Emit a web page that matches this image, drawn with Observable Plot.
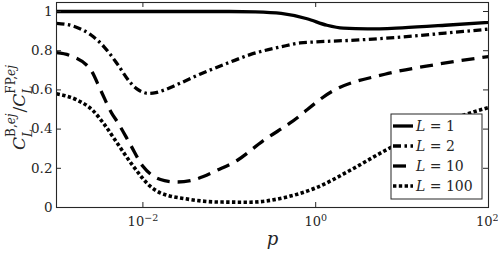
<!DOCTYPE html>
<html><head><meta charset="utf-8">
<script src="https://cdn.jsdelivr.net/npm/d3@7"></script>
<script src="https://cdn.jsdelivr.net/npm/@observablehq/plot@0.6"></script>
<style>
body{margin:0;background:#fff}
#chart svg{display:block}
</style>
</head><body><div id="chart"></div>
<script>
// ---- data (x as log10(p)) ----
const seriesL = [1, 2, 10, 100];
const exp1 = [-3, -2, -1, -0.7, -0.4, -0.1, 0.13, 0.32, 0.6, 1.0, 1.5, 2.0];
const val1 = [1.0, 1.0, 1.0, 0.998, 0.99, 0.963, 0.93, 0.915, 0.911, 0.917, 0.93, 0.945];
const exp2 = [-3, -2.8, -2.6, -2.45, -2.3, -2.15, -2.07, -2.0, -1.93, -1.85, -1.75, -1.6, -1.34, -1.0, -0.76, -0.4, -0.18, 0.0, 0.5, 1.0, 1.5, 2.0];
const val2 = [0.94, 0.925, 0.88, 0.82, 0.735, 0.64, 0.605, 0.588, 0.582, 0.586, 0.6, 0.628, 0.68, 0.74, 0.78, 0.82, 0.84, 0.845, 0.855, 0.87, 0.89, 0.91];
const exp10 = [-3, -2.84, -2.6, -2.49, -2.36, -2.3, -2.15, -2.0, -1.88, -1.75, -1.6, -1.45, -1.3, -1.14, -0.91, -0.61, -0.3, 0.2, 0.8, 1.4, 2.0];
const val10 = [0.79, 0.775, 0.70, 0.60, 0.48, 0.44, 0.325, 0.21, 0.16, 0.137, 0.13, 0.137, 0.158, 0.19, 0.24, 0.34, 0.43, 0.595, 0.68, 0.73, 0.77];
const exp100 = [-3, -2.77, -2.58, -2.44, -2.3, -2.11, -1.92, -1.8, -1.7, -1.53, -1.14, -0.76, -0.37, 0.0, 0.4, 0.78, 1.2, 1.7, 2.0];
const val100 = [0.58, 0.55, 0.495, 0.42, 0.33, 0.21, 0.11, 0.075, 0.06, 0.046, 0.028, 0.027, 0.05, 0.10, 0.19, 0.285, 0.38, 0.47, 0.51];
const xTicks = [1e-2, 1e0, 1e2];
const yTicks = [0, 0.2, 0.4, 0.6, 0.8, 1];

const rows = (e, v) => e.map((x, i) => ({p: 10 ** x, v: v[i]}));
const data = [rows(exp1, val1), rows(exp2, val2), rows(exp10, val10), rows(exp100, val100)];
const dashes = [null, "8,3.5,2.5,3.5", "13,8", "3.4,2.4"];

const W = 498, H = 256, mL = 56, mR = 10, mT = 2, mB = 49;
const innerW = W - mL - mR, innerH = H - mT - mB;
const ink = "#262626";
const FONT = "DejaVu Serif";

const lines = data.map((d, i) => Plot.line(d, {
  x: "p", y: "v", stroke: "#000", strokeWidth: i === 3 ? 3.6 : 3.3, curve: "monotone-x",
  strokeDasharray: dashes[i], strokeLinecap: "butt", strokeLinejoin: "round"
}));

const plot = Plot.plot({
  width: W, height: H,
  marginLeft: mL, marginRight: mR, marginTop: mT, marginBottom: mB,
  style: {fontFamily: FONT, fontSize: "13px", color: ink, background: "#fff"},
  x: {type: "log", domain: [1e-3, 1e2]},
  y: {domain: [0, 1.046]},
  marks: [
    ...lines,
    Plot.frame({stroke: ink, strokeWidth: 1.1}),
    Plot.tickX(xTicks, {x: d => d, stroke: ink, insetTop: innerH - 5}),
    Plot.tickX(xTicks, {x: d => d, stroke: ink, insetBottom: innerH - 5}),
    Plot.tickY(yTicks, {y: d => d, stroke: ink, insetRight: innerW - 5}),
    Plot.tickY(yTicks, {y: d => d, stroke: ink, insetLeft: innerW - 5}),
    Plot.axisX(xTicks, {tickSize: 0, tickPadding: 9, label: null, fill: ink, fontSize: 13,
      tickFormat: d => "10^" + Math.round(Math.log10(d))}),
    Plot.axisY(yTicks, {tickSize: 0, tickPadding: 4, label: null, fill: ink, fontSize: 13.5,
      tickFormat: d => d === 0 ? "0" : d === 1 ? "1" : d.toFixed(1)}),
    Plot.text(["p"], {frameAnchor: "bottom", dy: 37, fontStyle: "italic", fontSize: 18, fill: ink})
  ]
});
document.getElementById("chart").append(plot);

const svg = d3.select(plot);
// superscript exponents on x tick labels
const xl = svg.selectAll("g[aria-label='x-axis tick label'] text");
const nX = xl.size();
xl.each(function(_, i) {
  const s = d3.select(this);
  const txt = s.text();
  const [base, ex] = txt.split("^");
  s.text(null);
  if (i === nX - 1) s.attr("text-anchor", "end").attr("dx", 10);
  s.append("tspan").text(base);
  s.append("tspan").attr("dy", "-0.55em").attr("font-size", "9.5px").text(ex.replace("-", "\u2212"));
});

// y-axis rich label
const g = svg.append("g").attr("fill", ink).attr("font-family", FONT).attr("text-anchor", "start");
function put(str, u, v, size, italic) {
  const t = g.append("text").attr("x", u).attr("y", v).attr("font-size", size)
    .attr("text-anchor", "start")
    .attr("font-style", italic ? "italic" : "normal").text(str);
  return t.node().getComputedTextLength();
}
const big = 17, small = 12;
let u = 0;
function supsub(supParts, sub) {
  let su = u;
  supParts.forEach(([s, it]) => { su += put(s, su, -10, small, it); });
  const sb = put(sub, u, 6.5, small, true);
  u = Math.max(su, u + sb) + 1;
}
u += put("C", u, 0, big, true);
supsub([["B,", false], ["ej", true]], "L");
u += put("/", u, 0, big, false);
u += put("C", u, 0, big, true);
supsub([["FP,", false], ["ej", true]], "L");
g.attr("transform", `translate(25,${107 + u / 2}) rotate(-90)`);

// legend
const lg = svg.append("g").attr("font-family", FONT).attr("font-size", 14).attr("text-anchor", "start");
const bx = 391, by = 114, bw = 91, bh = 85;
lg.append("rect").attr("x", bx).attr("y", by).attr("width", bw).attr("height", bh)
  .attr("fill", "#fff").attr("stroke", ink).attr("stroke-width", 1);
seriesL.forEach((L, i) => {
  const cy = 126 + i * 20;
  lg.append("line").attr("x1", 393).attr("x2", 413).attr("y1", cy).attr("y2", cy)
    .attr("stroke", "#000").attr("stroke-width", 3.3)
    .attr("stroke-dasharray", dashes[i]);
  const t = lg.append("text").attr("x", 416).attr("y", cy + 5).attr("fill", ink).attr("text-anchor", "start");
  t.append("tspan").attr("font-style", "italic").text("L");
  t.append("tspan").text(" = " + L);
});
</script>
</body></html>
